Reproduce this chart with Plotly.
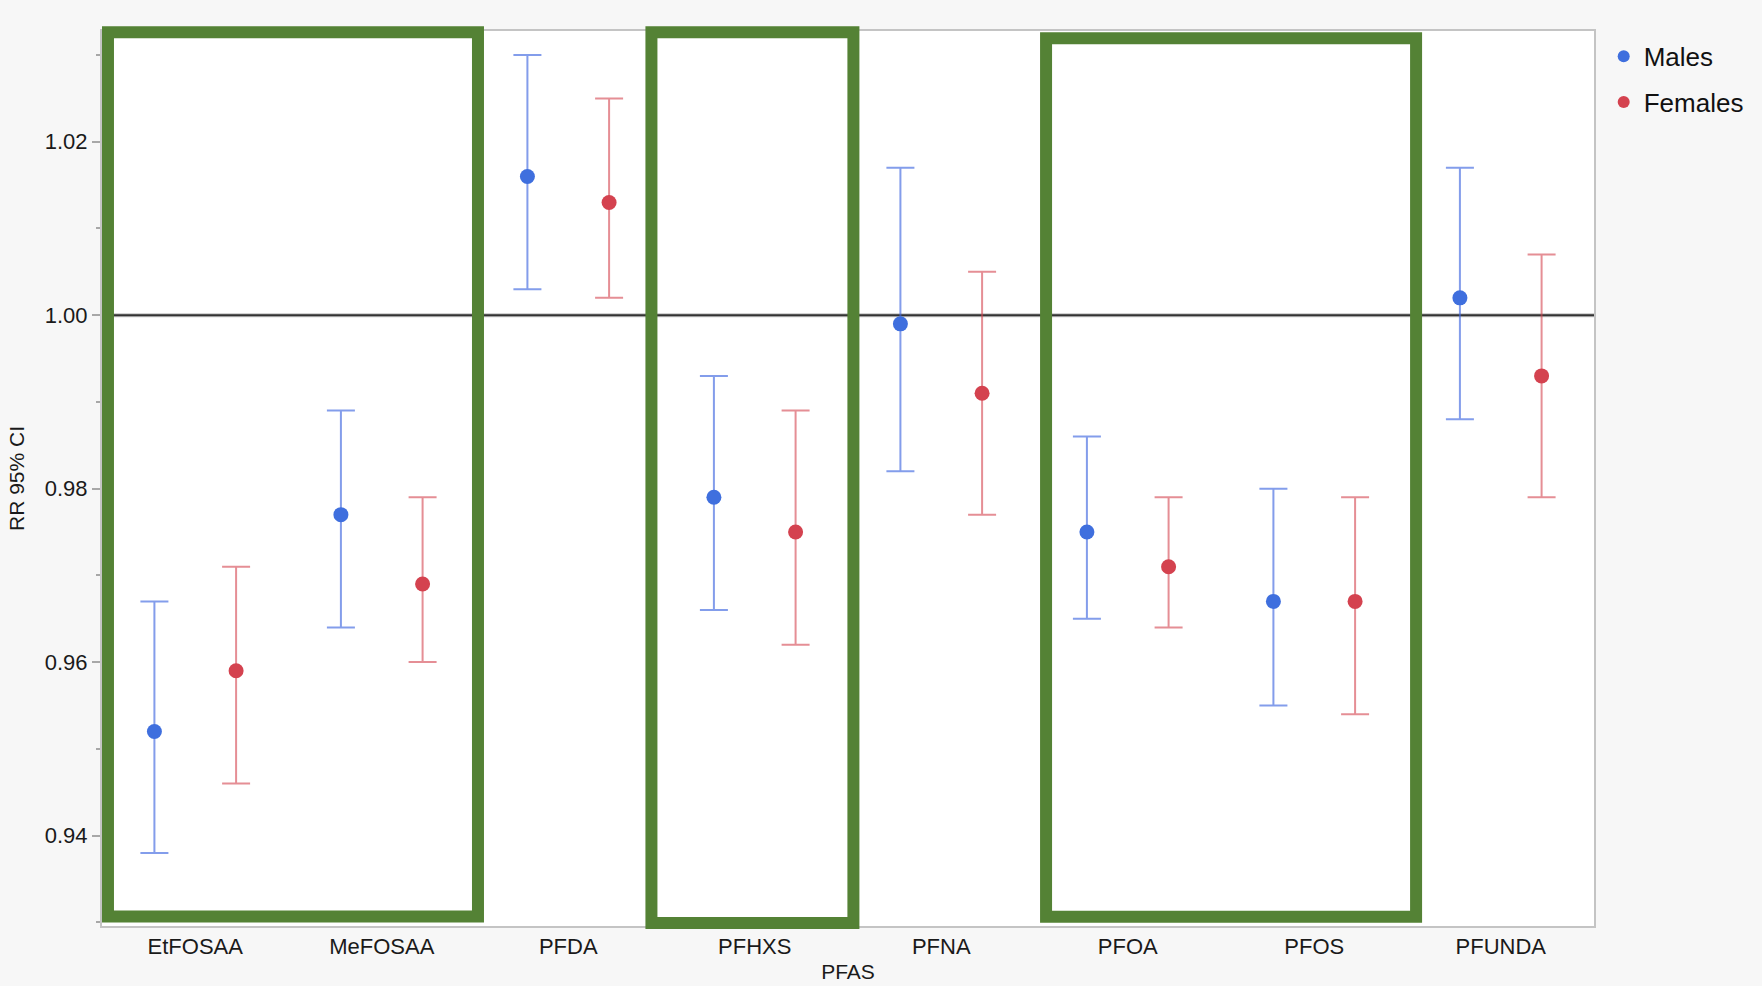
import plotly.graph_objects as go

# PFAS compounds on the x axis
pfas = ["EtFOSAA", "MeFOSAA", "PFDA", "PFHXS", "PFNA", "PFOA", "PFOS", "PFUNDA"]

# Rate ratios with 95% confidence limits
males_rr = [0.952, 0.977, 1.016, 0.979, 0.999, 0.975, 0.967, 1.002]
males_lo = [0.938, 0.964, 1.003, 0.966, 0.982, 0.965, 0.955, 0.988]
males_hi = [0.967, 0.989, 1.030, 0.993, 1.017, 0.986, 0.980, 1.017]

females_rr = [0.959, 0.969, 1.013, 0.975, 0.991, 0.971, 0.967, 0.993]
females_lo = [0.946, 0.960, 1.002, 0.962, 0.977, 0.964, 0.954, 0.979]
females_hi = [0.971, 0.979, 1.025, 0.989, 1.005, 0.979, 0.979, 1.007]

# Highlighted compound groups: (first, last, left nudge, right nudge, top, bottom in y-domain)
highlights = [
    ("EtFOSAA", "MeFOSAA", 0.032, 0.016, 0.9985, 0.0106),
    ("PFHXS", "PFHXS", -0.054, 0.029, 0.9985, 0.0034),
    ("PFOA", "PFOS", 0.062, 0.046, 0.9918, 0.0104),
]

FONT = "Liberation Sans, Arial, Helvetica, sans-serif"
OFFSET = 0.219  # horizontal dodge of the two sexes within a category

BLUE = "#3f6fde"
BLUE_BAR = "rgba(65,105,225,0.65)"
RED = "#d4424f"
RED_BAR = "rgba(212,66,79,0.6)"

idx = list(range(len(pfas)))

fig = go.Figure()

fig.add_trace(go.Scatter(
    x=[i - OFFSET for i in idx], y=males_rr, mode="markers", name="Males",
    legendgroup="m",
    marker=dict(color=BLUE, size=15),
    error_y=dict(type="data", symmetric=False,
                 array=[h - v for h, v in zip(males_hi, males_rr)],
                 arrayminus=[v - l for v, l in zip(males_rr, males_lo)],
                 color=BLUE_BAR, thickness=2, width=14),
))
fig.add_trace(go.Scatter(
    x=[i + OFFSET for i in idx], y=females_rr, mode="markers", name="Females",
    legendgroup="f",
    marker=dict(color=RED, size=15),
    error_y=dict(type="data", symmetric=False,
                 array=[h - v for h, v in zip(females_hi, females_rr)],
                 arrayminus=[v - l for v, l in zip(females_rr, females_lo)],
                 color=RED_BAR, thickness=2, width=14),
))

# Reference line at RR = 1
fig.add_shape(type="line", xref="x domain", yref="y", x0=0, x1=1, y0=1.0, y1=1.0,
              line=dict(color="#c4c4c4", width=4), layer="below")
fig.add_shape(type="line", xref="x domain", yref="y", x0=0, x1=1, y0=1.0, y1=1.0,
              line=dict(color="#333333", width=2), layer="below")

# Green frames around highlighted groups
for first, last, nl, nr, top, bot in highlights:
    i0 = pfas.index(first)
    i1 = pfas.index(last)
    fig.add_shape(type="rect", xref="x", yref="y domain",
                  x0=i0 - 0.5 + nl, x1=i1 + 0.5 + nr, y0=bot, y1=top,
                  line=dict(color="#548235", width=12), fillcolor="rgba(0,0,0,0)",
                  layer="above")

fig.update_layout(
    width=1762, height=986,
    margin=dict(l=102, r=168, t=31, b=60, autoexpand=False),
    paper_bgcolor="#f7f7f7", plot_bgcolor="#ffffff",
    font=dict(family=FONT, color="#1a1a1a", size=22),
    showlegend=True,
    legend=dict(x=1.0065, y=0.998, xanchor="left", yanchor="top",
                font=dict(size=26, family=FONT, color="#111111"),
                bgcolor="rgba(0,0,0,0)", tracegroupgap=9, traceorder="grouped",
                itemsizing="constant"),
)

fig.update_xaxes(
    range=[-0.5, 7.5], tickmode="array", tickvals=idx, ticktext=pfas,
    showgrid=False, zeroline=False, ticks="", automargin=False,
    showline=True, mirror=True, linecolor="#c4c4c4", linewidth=2,
    tickfont=dict(size=22, family=FONT, color="#1a1a1a"),
    title=dict(text="PFAS", font=dict(size=21, family=FONT, color="#1a1a1a"), standoff=6),
)
fig.update_yaxes(
    range=[0.92957, 1.03277], tick0=0.94, dtick=0.02, tickformat=".2f",
    showgrid=False, zeroline=False, automargin=False,
    ticks="outside", ticklen=8, tickwidth=1.5, tickcolor="#a8a8a8",
    minor=dict(dtick=0.01, tick0=0.93, ticks="outside", ticklen=4, tickwidth=1.5,
               tickcolor="#a8a8a8", showgrid=False),
    showline=True, mirror=True, linecolor="#c4c4c4", linewidth=2,
    tickfont=dict(size=22, family=FONT, color="#1a1a1a"),
    title=dict(text="RR 95% CI", font=dict(size=21, family=FONT, color="#1a1a1a"), standoff=14),
)

fig.write_html("out.html")
